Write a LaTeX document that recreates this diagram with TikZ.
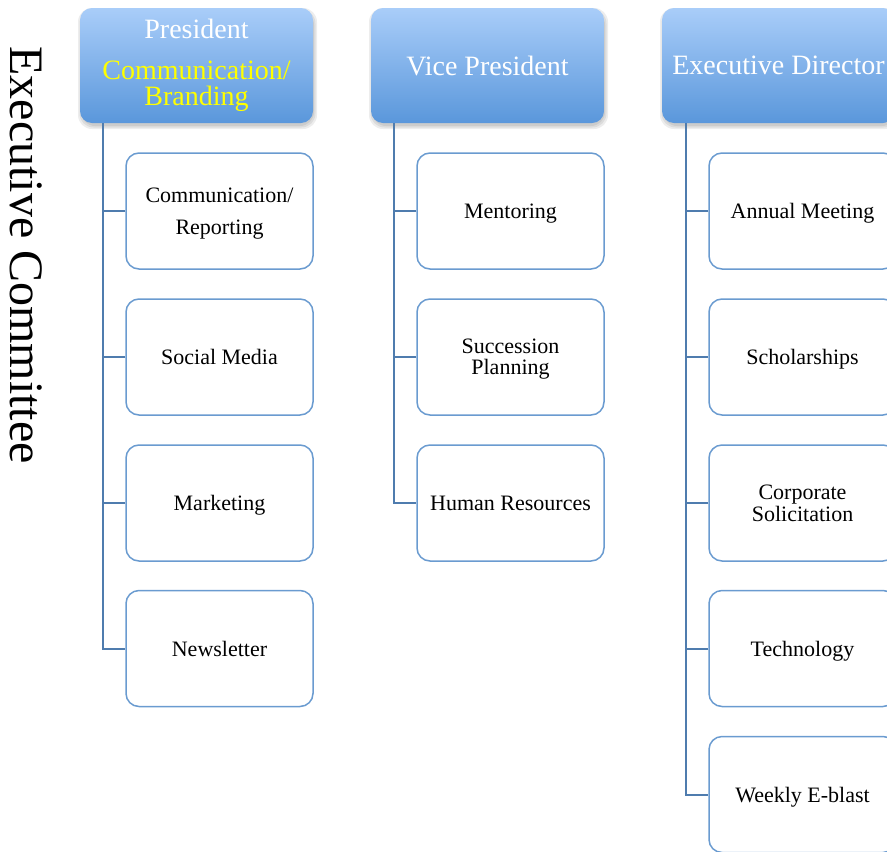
\documentclass[tikz,border=0pt]{standalone}
\usepackage{fontspec}
\setmainfont{Liberation Serif}
\definecolor{hdtop}{HTML}{A9CDF9}
\definecolor{hdbot}{HTML}{5A97DB}
\definecolor{boxline}{HTML}{6A9BD0}
\definecolor{connline}{HTML}{4F7CAE}
\definecolor{hdyellow}{HTML}{FFFF00}
\tikzset{
  header/.style={rectangle, minimum width=233pt, minimum height=115pt,
    draw=none, text=white, align=center,
    font=\fontsize{28}{26}\selectfont},
  child/.style={rectangle, rounded corners=13pt, minimum width=187pt, minimum height=116pt,
    draw=boxline, line width=1.5pt, fill=white, text=black, align=center, text depth=0pt,
    font=\fontsize{22}{22}\selectfont},
  conn/.style={draw=connline, line width=2pt},
  shadowlayer/.style={fill=black, fill opacity=0.07, draw=none},
}
\begin{document}
\begin{tikzpicture}[x=1pt,y=-1pt]
\useasboundingbox (0,0) rectangle (887,852);

\node[rotate=-90, font=\fontsize{48}{48}\selectfont, inner sep=0pt] (title) at (26,255) {Executive Committee};

% header shadows and gradient backgrounds
\foreach \cx in {196.5,487.5,778.5}{
  \foreach \s in {0,1.5,3}{
    \fill[shadowlayer, rounded corners=14pt] (\cx-116.5+1-\s,65.5-57.5+3-\s) rectangle (\cx+116.5+1+\s,65.5+57.5+3+\s);
  }
  \begin{scope}
    \clip[rounded corners=12pt] (\cx-116.5,8) rectangle (\cx+116.5,123);
    \foreach \i in {0,...,115}{
      \pgfmathsetmacro\p{100*\i/115}
      \fill[color=hdbot!\p!hdtop] (\cx-117,8+\i) rectangle (\cx+117,9.3+\i);
    }
  \end{scope}
}

% headers
\node[header] (h1) at (196.5,65.5) {President\\[15pt]\textcolor{hdyellow}{Communication/}\\\textcolor{hdyellow}{Branding}};
\node[header] (h2) at (487.5,65.5) {Vice President};
\node[header] (h3) at (778.5,65.5) {Executive Director};

% column 1
\node[child, font=\fontsize{22}{32}\selectfont] (c11) at (219.5,211) {Communication/\\Reporting};
\node[child] (c12) at (219.5,357) {Social Media};
\node[child] (c13) at (219.5,503) {Marketing};
\node[child] (c14) at (219.5,648.5) {Newsletter};

% column 2
\node[child] (c21) at (510.5,211) {Mentoring};
\node[child, font=\fontsize{22}{21}\selectfont] (c22) at (510.5,357) {Succession\\Planning};
\node[child] (c23) at (510.5,503) {Human Resources};

% column 3
\node[child] (c31) at (802.5,211) {Annual Meeting};
\node[child] (c32) at (802.5,357) {Scholarships};
\node[child] (c33) at (802.5,503) {Corporate\\Solicitation};
\node[child] (c34) at (802.5,648.5) {Technology};
\node[child] (c35) at (802.5,794.5) {Weekly E-blast};

% connectors
\draw[conn] ([xshift=23pt]h1.south west) |- (c14.west);
\draw[conn] (c11.west) -- ++(-23,0);
\draw[conn] (c12.west) -- ++(-23,0);
\draw[conn] (c13.west) -- ++(-23,0);

\draw[conn] ([xshift=23pt]h2.south west) |- (c23.west);
\draw[conn] (c21.west) -- ++(-23,0);
\draw[conn] (c22.west) -- ++(-23,0);

\draw[conn] ([xshift=24pt]h3.south west) |- (c35.west);
\draw[conn] (c31.west) -- ++(-23,0);
\draw[conn] (c32.west) -- ++(-23,0);
\draw[conn] (c33.west) -- ++(-23,0);
\draw[conn] (c34.west) -- ++(-23,0);
\end{tikzpicture}
\end{document}
